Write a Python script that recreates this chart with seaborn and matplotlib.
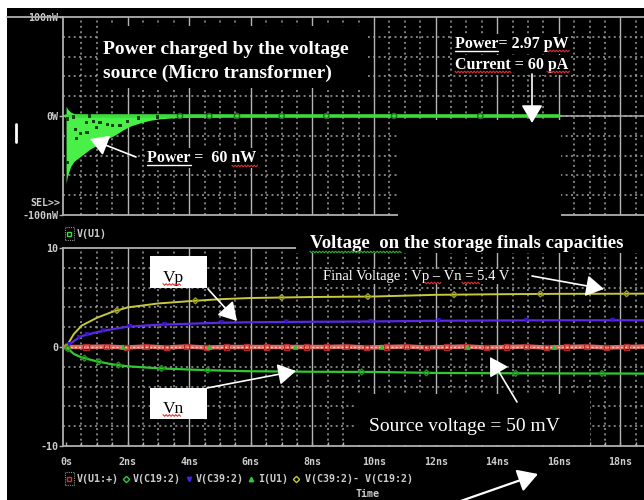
import numpy as np
import matplotlib
matplotlib.use("Agg")
import matplotlib.pyplot as plt
from matplotlib.patches import Rectangle, FancyArrowPatch
from matplotlib.lines import Line2D
import seaborn as sns

# ---------------- power delivered by the source (nW) ----------------
pw_env_t = [0.0, 0.05, 0.15, 0.25, 0.5, 0.8, 1.1, 1.35, 1.6, 1.85, 2.1, 2.4, 2.7, 3.0, 3.5, 4.0, 5.0]
pw_env_hi = [10.0, 7.0, 4.0, 2.5, 1.6, 1.3, 1.2, 1.1, 1.0, 1.0, 1.0, 1.0, 1.0, 1.0, 1.0, 1.0, 1.0]
pw_env_lo = [-68.0, -60.0, -51.0, -46.0, -40.0, -33.0, -28.0, -23.0, -19.0, -14.0,
             -10.0, -7.0, -4.5, -3.0, -1.8, -1.2, -1.0]
pw_line_t = [0.0, 16.0]
pw_line_v = [0.0, 0.0]
pw_dot_t = [0.06, 0.23, 0.77, 0.65, 0.9, 1.1, 1.35, 1.5, 1.75, 2.0, 2.35, 2.97,
            0.32, 0.48, 0.35, 0.68, 1.0, 0.06]
pw_dot_v = [-3, -1, 0, -7, -6, -7, -9, -10, -10, -6, -2, -1, -14, -18, -23, -17, -12, -47]
pw_ring_t = [3.7, 4.65, 5.55, 7.0, 8.45, 10.65, 13.45]

# ---------------- storage capacitor voltages (V) ----------------
t_ns = [0, 0.25, 0.5, 1, 1.5, 2, 3, 4, 5, 6, 8, 10, 12, 14, 16, 18, 20]
v_c39 = [0, 0.6, 1.1, 1.5, 1.8, 2.05, 2.25, 2.35, 2.45, 2.5, 2.55, 2.58, 2.65, 2.68, 2.7, 2.7, 2.7]
v_c19 = [0, -0.7, -1.05, -1.45, -1.75, -1.95, -2.15, -2.28, -2.38, -2.45, -2.5, -2.52,
         -2.62, -2.65, -2.67, -2.68, -2.7]
v_diff = list(np.array(v_c39) - np.array(v_c19))

src_t = [0.0, 0.65, 1.3, 1.95, 2.6, 3.25, 3.9, 4.55, 5.2, 5.85, 6.5, 7.15, 7.8, 8.45, 9.1,
         9.75, 10.4, 11.05, 11.7, 12.35, 13.0, 13.65, 14.3, 14.95, 15.6, 16.25, 16.9,
         17.55, 18.2, 18.85, 19.5, 20.0]
src_v = [0.0, 0.0, 0.05, -0.05, 0.05, -0.05, 0.05, -0.05, 0.0, 0.0, 0.0, 0.0, 0.0, 0.0,
         0.05, -0.05, 0.0, 0.05, -0.05, 0.0, 0.05, -0.05, 0.0, 0.05, -0.05, 0.0, 0.05,
         -0.05, 0.0, 0.05, -0.05, 0.0]
i_t = [0.0, 20.0]
i_a = [60e-12, 60e-12]

mk_diff_t = [0.0, 1.65, 4.2, 7.0, 9.8, 12.6, 15.4, 18.2]
mk_c39_t = [0.1, 0.42, 0.68, 1.2, 2.07, 3.2, 5.05, 7.15, 9.9, 12.1, 14.95, 17.75]
mk_c19_t = [0.06, 0.6, 1.07, 1.7, 3.1, 4.6, 9.6, 11.7, 14.6, 17.4]
mk_i_t = [1.85, 4.65, 7.45, 10.25, 13.05, 15.85]

x_ticks = [0, 2, 4, 6, 8, 10, 12, 14, 16, 18]
x_tick_labels = ["0s", "2ns", "4ns", "6ns", "8ns", "10ns", "12ns", "14ns", "16ns", "18ns"]
pw_ticks = [100, 0, -100]
pw_tick_labels = ["100nW", "0W", "-100nW"]
v_ticks = [10, 0, -10]
v_tick_labels = ["10", "0", "-10"]

legend_items = ["V(U1:+)", "V(C19:2)", "V(C39:2)", "I(U1)", "V(C39:2)- V(C19:2)"]

# ---------------- colours ----------------
C_GRID = "#a0a0a0"
C_MAJ = "#b4b4b4"
C_AXIS = "#b0b0b0"
C_TXT = "#cccccc"
C_FILL = "#48f048"
C_PLINE = "#3cdc3c"
C_YEL = "#c8c83c"
C_BLU = "#5a28e6"
C_GRN = "#32c832"
C_RED = "#e06464"
C_CUR = "#e6e696"

sns.set_style("dark", {"axes.facecolor": "black", "figure.facecolor": "white"})
plt.rcParams["font.family"] = ["DejaVu Sans Mono"]
plt.rcParams["font.weight"] = "bold"
SERIF = ["Liberation Serif", "DejaVu Serif"]
FS_TICK = 7.2

W, H = 644, 500
fig = plt.figure(figsize=(W / 100, H / 100), dpi=100)


def P(x, y):
    return (x / W, 1 - y / H)


# black screen area
fig.patches.append(Rectangle((7 / W, 0), 1, 1 - 8 / H, transform=fig.transFigure,
                             facecolor="black", edgecolor="none", zorder=-5))

ax_p = fig.add_axes([63 / W, 1 - 215 / H, 623 / W, 198 / H])
ax_v = fig.add_axes([63 / W, 1 - 446 / H, 623 / W, 198 / H])

XL = (-0.1, 20.13)
DOT = (0, (1.3, 2.2))


def scope_grid(ax, ylo, yhi, ystep):
    ax.set_facecolor("black")
    ax.set_xlim(*XL)
    ax.set_ylim(ylo, yhi)
    ax.grid(False)
    for xv in np.arange(0.5, 20.01, 0.5):
        if abs(xv % 2) < 1e-9:
            ax.axvline(xv, color=C_MAJ, lw=1.0, zorder=0.5)
        else:
            ax.axvline(xv, color=C_GRID, lw=1.1, ls=DOT, zorder=0.5)
    for yv in np.arange(ylo + ystep, yhi - ystep / 2, ystep):
        ax.axhline(yv, color=C_GRID, lw=1.1, ls=DOT, zorder=0.5)
    for s in ["left", "bottom", "top"]:
        ax.spines[s].set_color(C_AXIS)
        ax.spines[s].set_linewidth(1.3)
    ax.spines["right"].set_visible(False)


# ---------------- upper panel: power ----------------
scope_grid(ax_p, -100, 100, 20)
ax_p.axhline(0, color=C_AXIS, lw=1.1, zorder=0.6)
ax_p.fill_between(pw_env_t, pw_env_lo, pw_env_hi, color=C_FILL, lw=0, zorder=2)
sns.lineplot(x=pw_line_t, y=pw_line_v, ax=ax_p, color=C_PLINE, linewidth=2.6,
             estimator=None, sort=False, legend=False, zorder=2.5)
sns.scatterplot(x=pw_dot_t, y=pw_dot_v, ax=ax_p, marker="s", s=5, color="#104010",
                edgecolor="none", legend=False, zorder=3)
sns.scatterplot(x=pw_ring_t, y=[0.0] * len(pw_ring_t), ax=ax_p, marker="o", s=14,
                facecolor="none", edgecolor="#1e6e1e", linewidth=1.0, legend=False, zorder=3)
ax_p.set_xticks(x_ticks)
ax_p.set_xticklabels([])
ax_p.tick_params(axis="x", length=0)
ax_p.set_yticks(pw_ticks)
ax_p.set_yticklabels(pw_tick_labels)
ax_p.tick_params(axis="y", direction="out", length=3, width=1, color=C_AXIS,
                 labelsize=FS_TICK, labelcolor=C_TXT, pad=0.5, left=True)
ax_p.set_xlabel("")
ax_p.set_ylabel("")

# ---------------- lower panel: voltages ----------------
scope_grid(ax_v, -10, 10, 2)
sns.lineplot(x=src_t, y=src_v, ax=ax_v, color=C_RED, linewidth=3.2,
             estimator=None, sort=False, legend=False, zorder=2)
sns.lineplot(x=i_t, y=i_a, ax=ax_v, color=C_CUR, linewidth=1.0, linestyle=(0, (1.5, 1.5)),
             estimator=None, sort=False, legend=False, zorder=2.2)
sns.lineplot(x=t_ns, y=v_diff, ax=ax_v, color=C_YEL, linewidth=1.4,
             estimator=None, sort=False, legend=False, zorder=2)
sns.lineplot(x=t_ns, y=v_c39, ax=ax_v, color=C_BLU, linewidth=1.6,
             estimator=None, sort=False, legend=False, zorder=2)
sns.lineplot(x=t_ns, y=v_c19, ax=ax_v, color=C_GRN, linewidth=1.6,
             estimator=None, sort=False, legend=False, zorder=2)

sns.scatterplot(x=src_t[1:-1], y=src_v[1:-1], ax=ax_v, marker="s", s=14, facecolor="none",
                edgecolor="#b02828", linewidth=1.0, legend=False, zorder=3)
sns.scatterplot(x=mk_i_t, y=np.interp(mk_i_t, i_t, i_a), ax=ax_v, marker="^", s=16,
                color="#28c828", edgecolor="none", legend=False, zorder=3)
sns.scatterplot(x=mk_diff_t, y=np.interp(mk_diff_t, t_ns, v_diff), ax=ax_v, marker="D", s=9,
                facecolor="none", edgecolor="#9a9a28", linewidth=1.0, legend=False, zorder=3)
sns.scatterplot(x=mk_c39_t, y=np.interp(mk_c39_t, t_ns, v_c39), ax=ax_v, marker="v", s=14,
                color="#3c14c8", edgecolor="none", legend=False, zorder=3)
sns.scatterplot(x=mk_c19_t, y=np.interp(mk_c19_t, t_ns, v_c19), ax=ax_v, marker="D", s=9,
                facecolor="none", edgecolor="#1e961e", linewidth=1.0, legend=False, zorder=3)

ax_v.set_xticks(x_ticks)
ax_v.set_xticklabels(x_tick_labels)
ax_v.set_xticks(np.arange(0.5, 20, 0.5), minor=True)
ax_v.tick_params(axis="x", which="both", direction="in", length=3, width=1, color=C_AXIS,
                 labelsize=FS_TICK, labelcolor=C_TXT, pad=8, bottom=True)
ax_v.set_yticks(v_ticks)
ax_v.set_yticklabels(v_tick_labels)
ax_v.tick_params(axis="y", direction="out", length=3, width=1, color=C_AXIS,
                 labelsize=FS_TICK, labelcolor=C_TXT, pad=0.5, left=True)
ax_v.set_xlabel("")
ax_v.set_ylabel("")

# ---------------- scope chrome ----------------
fig.add_artist(Line2D([7 / W, 63 / W], [1 - 17 / H] * 2, color=C_AXIS, lw=1.3, zorder=3))
fig.text(*P(60, 203), "SEL>>", ha="right", va="center", color=C_TXT, fontsize=FS_TICK)
fig.add_artist(Line2D([16 / W] * 2, [1 - 124 / H, 1 - 142 / H], color="white", lw=2, zorder=3))

# trace selector above the voltage panel
fig.add_artist(Rectangle(P(65, 240), 9 / W, 13 / H, transform=fig.transFigure, fill=False,
                         edgecolor="#909090", lw=0.8, ls=(0, (1, 1)), zorder=4))
fig.add_artist(Line2D([69 / W], [1 - 233.5 / H], marker="s", ms=3.5, mfc="none",
                      mec="#3cdc3c", mew=1.0, ls="none", zorder=4))
fig.text(*P(77, 234), "V(U1)", ha="left", va="center", color=C_TXT, fontsize=FS_TICK)

# trace legend along the bottom
fig.add_artist(Rectangle(P(65, 485), 9 / W, 13 / H, transform=fig.transFigure, fill=False,
                         edgecolor="#909090", lw=0.8, ls=(0, (1, 1)), zorder=4))
leg_marks = [("s", "none", "#d03030", 69), ("D", "none", "#32c832", 126),
             ("v", "#4a1ee6", "#4a1ee6", 189), ("^", "#32c832", "#32c832", 251),
             ("D", "none", "#c8c83c", 296)]
leg_text_x = [77, 133, 196, 258, 305]
for (mk, fc, ec, mx), lx, label in zip(leg_marks, leg_text_x, legend_items):
    fig.add_artist(Line2D([mx / W], [1 - 478.5 / H], marker=mk, ms=3.2, mfc=fc, mec=ec,
                          mew=1.0, ls="none", zorder=4))
    fig.text(*P(lx, 479), label, ha="left", va="center", color=C_TXT, fontsize=FS_TICK)
fig.text(*P(367, 494), "Time", ha="center", va="center", color=C_TXT, fontsize=FS_TICK)

# ---------------- pasted annotations ----------------
BOX = dict(facecolor="black", edgecolor="none", pad=1.5)


def black_box(x0, y0, x1, y1):
    fig.patches.append(Rectangle(P(x0, y1), (x1 - x0) / W, (y1 - y0) / H,
                                 transform=fig.transFigure, facecolor="black",
                                 edgecolor="none", zorder=3))


def white_box(x0, y0, x1, y1):
    fig.patches.append(Rectangle(P(x0, y1), (x1 - x0) / W, (y1 - y0) / H,
                                 transform=fig.transFigure, facecolor="white",
                                 edgecolor="none", zorder=4))


def underline(x0, x1, y, color="white"):
    fig.add_artist(Line2D([x0 / W, x1 / W], [1 - y / H] * 2, color=color, lw=1.0, zorder=6))


def squiggle(x0, x1, y, color):
    xs = np.arange(x0, x1 + 0.1, 1.6)
    ys = y + np.where(np.arange(len(xs)) % 2 == 0, -0.8, 0.8)
    fig.add_artist(Line2D(xs / W, 1 - ys / H, color=color, lw=0.8, zorder=6))


def arrow(x0, y0, x1, y1, hl=11, hw=6.5, lw=1.2):
    fig.add_artist(FancyArrowPatch(P(x0, y0), P(x1, y1), transform=fig.transFigure,
                                   arrowstyle=f"-|>,head_length={hl},head_width={hw}",
                                   mutation_scale=1, color="white", lw=lw,
                                   shrinkA=0, shrinkB=0, zorder=6))


black_box(98, 26, 368, 88)
black_box(398, 119.5, 561, 224)
black_box(296, 226, 644, 253)
black_box(355, 394, 590, 445)

fig.text(*P(103, 54), "Power charged by the voltage", ha="left", va="baseline",
         color="white", fontsize=14, fontweight="bold", family=SERIF, zorder=5)
fig.text(*P(103, 78), "source (Micro transformer)", ha="left", va="baseline",
         color="white", fontsize=14, fontweight="bold", family=SERIF, zorder=5)

fig.text(*P(147, 162), "Power =  60 nW", ha="left", va="baseline", color="white",
         fontsize=11.5, fontweight="bold", family=SERIF, bbox=BOX, zorder=5)
underline(147, 191, 165)
squiggle(232, 258, 166, "#e03030")
arrow(136, 157, 90, 139)

fig.text(*P(455, 48), "Power= 2.97 pW", ha="left", va="baseline", color="white",
         fontsize=11.5, fontweight="bold", family=SERIF, bbox=BOX, zorder=5)
fig.text(*P(455, 69), "Current = 60 pA", ha="left", va="baseline", color="white",
         fontsize=11.5, fontweight="bold", family=SERIF, bbox=BOX, zorder=5)
underline(455, 498, 51)
squiggle(547, 570, 51, "#e03030")
squiggle(455, 512, 72, "#e03030")
squiggle(547, 570, 72, "#e03030")
arrow(532, 74, 532, 123)

fig.text(*P(310, 248), "Voltage  on the storage finals capacities", ha="left",
         va="baseline", color="white", fontsize=13.5, fontweight="bold", family=SERIF,
         zorder=5)
squiggle(310, 402, 252, "#30b030")

fig.text(*P(323, 280), "Final Voltage : Vp \u2013 Vn = 5.4 V", ha="left", va="baseline",
         color="white", fontsize=10.5, fontweight="normal", family=SERIF,
         bbox=dict(facecolor="black", edgecolor="none", pad=1), zorder=5)
squiggle(425, 442, 283, "#e03030")
squiggle(462, 480, 283, "#e03030")
arrow(532, 276, 604, 289)

white_box(150, 256, 207, 288)
fig.text(*P(163, 282), "Vp", ha="left", va="baseline", color="black", fontsize=12.5,
         fontweight="normal", family=SERIF, zorder=5)
squiggle(163, 182, 284.5, "#e03030")
arrow(208, 289, 237, 321)

white_box(150, 388, 207, 419)
fig.text(*P(163, 413), "Vn", ha="left", va="baseline", color="black", fontsize=12.5,
         fontweight="normal", family=SERIF, zorder=5)
squiggle(163, 182, 415.5, "#e03030")
arrow(207, 388, 296, 371)

fig.text(*P(369, 431), "Source voltage = 50 mV", ha="left", va="baseline", color="white",
         fontsize=14, fontweight="normal", family=SERIF, zorder=5)
arrow(517, 402, 490, 357)

arrow(455, 503, 538, 474, hl=12, hw=7, lw=1.6)

fig.savefig("out.png", dpi=100, facecolor="white")
